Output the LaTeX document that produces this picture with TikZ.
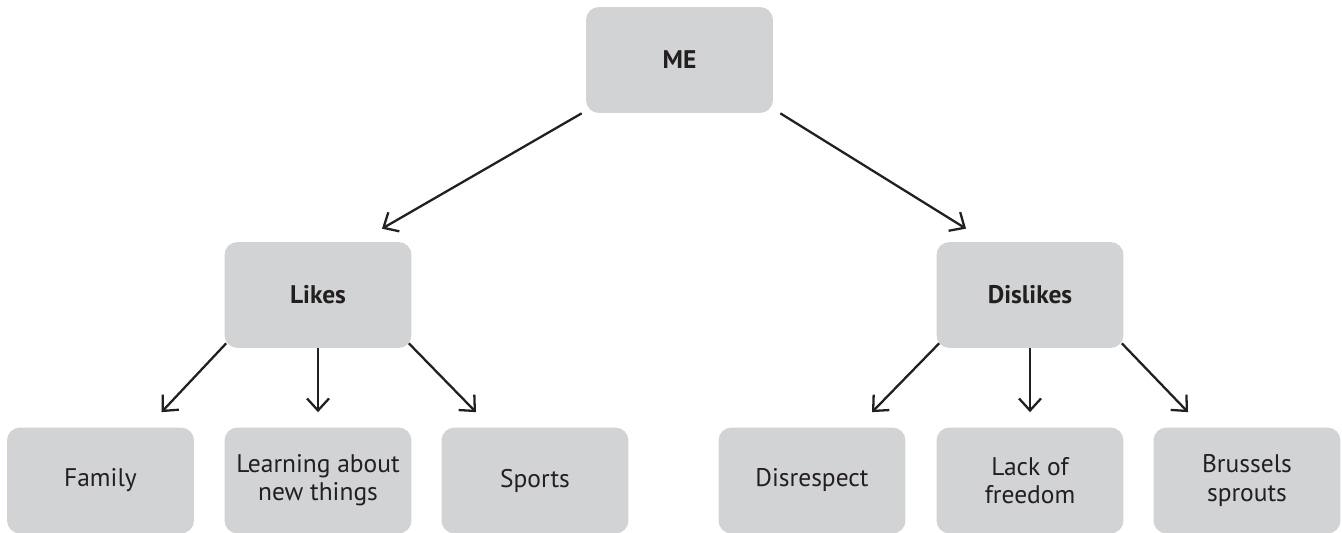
\documentclass[tikz,border=0pt]{standalone}
\usepackage{fontspec}
\setmainfont{PT Sans}
\usetikzlibrary{arrows.meta}
\definecolor{boxgrey}{RGB}{209,211,212}
\definecolor{ink}{RGB}{35,31,32}

\begin{document}
\begin{tikzpicture}[x=0.02cm, y=-0.02cm,
  box/.style={fill=boxgrey, rounded corners=0.26cm, minimum width=3.74cm, minimum height=2.12cm,
    align=center, text=ink, font=\fontsize{14.5}{16}\selectfont},
  headbox/.style={box, font=\fontsize{14.5}{16}\selectfont\bfseries},
  arr/.style={draw=ink, line width=1.3pt, -{Straight Barb[length=0.24cm, width=0.44cm, line width=1.3pt]}}]
 \useasboundingbox (0, 0) rectangle (1342, 533);

 \node [headbox] (me) at (679.5, 60) {ME};
 \node [headbox] (likes) at (318, 295) {Likes};
 \node [headbox] (dislikes) at (1030, 295) {Dislikes};

 \node [box] (family) at (100.5, 480.5) {Family};
 \node [box] (learning) at (318, 480.5) {Learning about\\new things};
 \node [box] (sports) at (535, 480.5) {Sports};
 \node [box] (disrespect) at (812, 480.5) {Disrespect};
 \node [box] (lack) at (1030, 480.5) {Lack of\\freedom};
 \node [box] (sprouts) at (1247, 480.5) {Brussels\\sprouts};

 \draw[arr] ([xshift=-0.08cm]me.south west) -- ([xshift=1.28cm, yshift=0.26cm]likes.north);
 \draw[arr] ([xshift=0.14cm]me.south east) -- ([xshift=-1.28cm, yshift=0.26cm]dislikes.north);

 \draw[arr] ([xshift=0.04cm, yshift=0.1cm]likes.south west) -- ([xshift=1.22cm, yshift=0.3cm]family.north);
 \draw[arr] (likes.south) -- ([yshift=0.3cm]learning.north);
 \draw[arr] ([xshift=-0.06cm, yshift=0.1cm]likes.south east) -- ([xshift=-1.18cm, yshift=0.3cm]sports.north);

 \draw[arr] ([xshift=0.06cm, yshift=0.1cm]dislikes.south west) -- ([xshift=1.2cm, yshift=0.3cm]disrespect.north);
 \draw[arr] (dislikes.south) -- ([yshift=0.3cm]lack.north);
 \draw[arr] ([xshift=-0.04cm, yshift=0.1cm]dislikes.south east) -- ([xshift=-1.18cm, yshift=0.3cm]sprouts.north);
\end{tikzpicture}
\end{document}
